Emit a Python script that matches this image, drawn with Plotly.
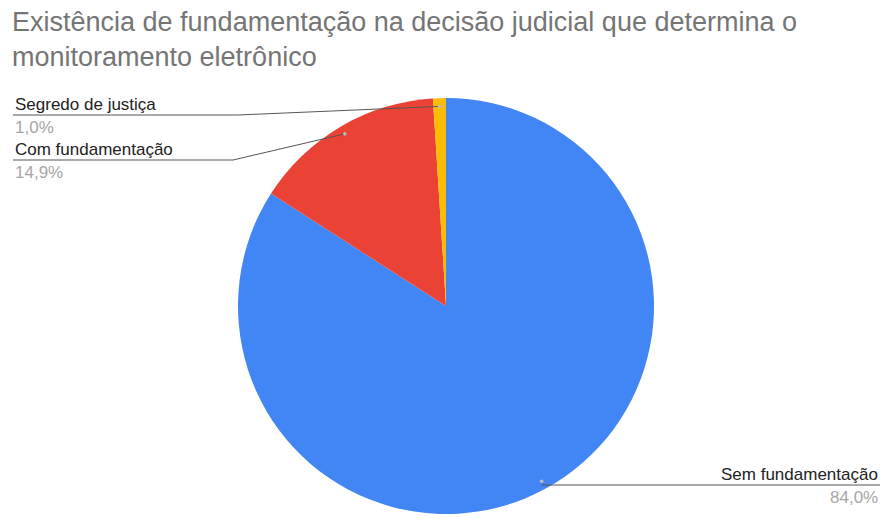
import math
import plotly.graph_objects as go

# Data
labels = ["Sem fundamentação", "Com fundamentação", "Segredo de justiça"]
values = [84.0, 14.9, 1.0]
pct_text = ["84,0%", "14,9%", "1,0%"]
colors = ["#4285F4", "#EA4335", "#FBBC04"]

title = "Existência de fundamentação na decisão judicial que determina o<br>monitoramento eletrônico"

W, H = 884, 518
CX, CY, R = 446, 306, 208  # pie centre / radius in pixels

# label layout: (side, elbow x, line y, text x)
label_layout = [
    ("right", None, 485, 880),
    ("left", 233, 160, 13),
    ("left", 238, 115, 13),
]

FONT = "Liberation Sans, Arial"

def px(x):
    return x / W

def py(y):
    return 1 - y / H

fig = go.Figure(go.Pie(
    labels=labels,
    values=values,
    marker=dict(colors=colors, line=dict(width=0)),
    sort=False,
    direction="clockwise",
    rotation=0,
    textinfo="none",
    hoverinfo="label+percent",
    showlegend=False,
    domain=dict(x=[px(CX - R), px(CX + R)], y=[py(CY + R), py(CY - R)]),
))

shapes = []
annotations = []
total = sum(values)
cum = 0.0
for lab, v, pt, (side, ex, ly, tx) in zip(labels, values, pct_text, label_layout):
    mid = (cum + v / 2) / total * 2 * math.pi
    cum += v
    dx = CX + 0.96 * R * math.sin(mid)
    dy = CY - 0.96 * R * math.cos(mid)
    # leader line from slice point to text
    if ex is None:
        pts = [(dx, ly), (tx, ly)]
    else:
        pts = [(dx, dy), (ex, ly), (tx, ly)]
    for (x0, y0), (x1, y1) in zip(pts[:-1], pts[1:]):
        shapes.append(dict(type="line", xref="paper", yref="paper",
                           x0=px(x0), y0=py(y0), x1=px(x1), y1=py(y1),
                           line=dict(color="#555555", width=1)))
    shapes.append(dict(type="circle", xref="paper", yref="paper",
                       x0=px(dx - 1.8), x1=px(dx + 1.8),
                       y0=py(dy + 1.8), y1=py(dy - 1.8),
                       fillcolor="#bdbdbd", line=dict(width=0)))
    anchor = "left" if side == "left" else "right"
    annotations.append(dict(x=px(tx), y=py(ly + 1), xref="paper", yref="paper",
                            text=lab, showarrow=False, xanchor=anchor, yanchor="bottom",
                            font=dict(family=FONT, size=17, color="#222222")))
    annotations.append(dict(x=px(tx), y=py(ly + 1), xref="paper", yref="paper",
                            text=pt, showarrow=False, xanchor=anchor, yanchor="top",
                            font=dict(family=FONT, size=17, color="#a6a6a6")))

annotations.append(dict(x=px(10), y=py(5), xref="paper", yref="paper",
                        text=title, showarrow=False, xanchor="left", yanchor="top", align="left",
                        font=dict(family=FONT, size=27, color="#757575")))

fig.update_layout(
    width=W, height=H,
    margin=dict(l=0, r=0, t=0, b=0),
    paper_bgcolor="white",
    plot_bgcolor="white",
    shapes=shapes,
    annotations=annotations,
)

fig.write_html("out.html")
